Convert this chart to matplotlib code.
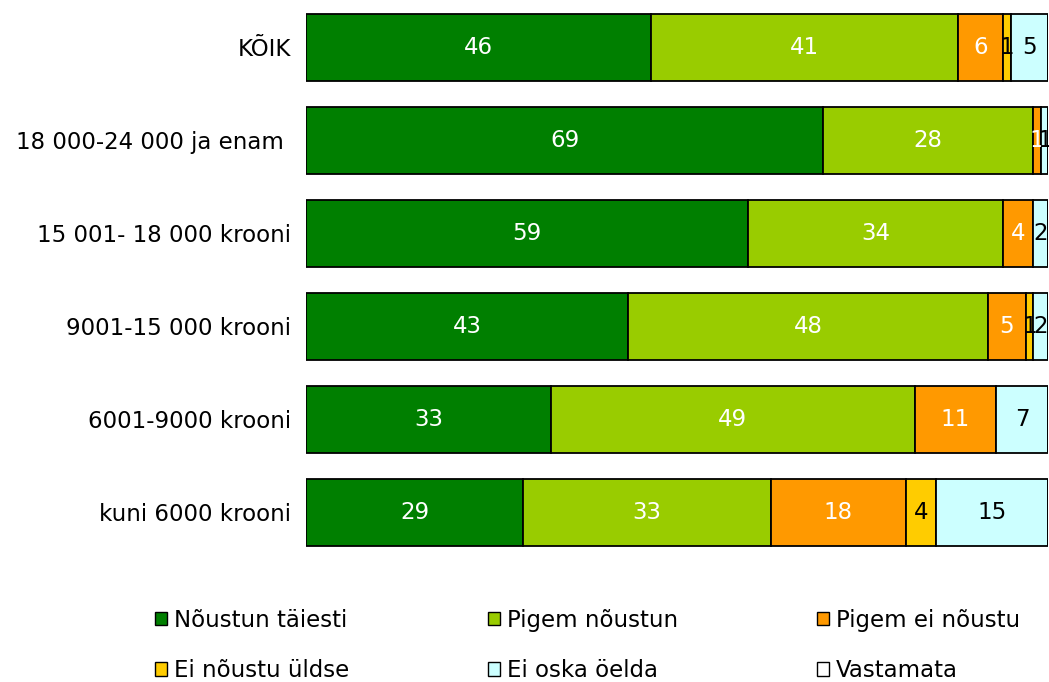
import numpy as np
import matplotlib
matplotlib.use("Agg")
from matplotlib import pyplot as plt
from matplotlib.patches import Patch

# sissetulekugrupid, ülevalt alla
groups = ['KÕIK', '18 000-24 000 ja enam ', '15 001- 18 000 krooni',
          '9001-15 000 krooni', '6001-9000 krooni', 'kuni 6000 krooni']

answers = ['Nõustun täiesti', 'Pigem nõustun', 'Pigem ei nõustu',
           'Ei nõustu üldse', 'Ei oska öelda', 'Vastamata']

noustun_taiesti = [46, 69, 59, 43, 33, 29]
pigem_noustun = [41, 28, 34, 48, 49, 33]
pigem_ei_noustu = [6, 1, 4, 5, 11, 18]
ei_noustu_uldse = [1, 0, 0, 1, 0, 4]
ei_oska_oelda = [5, 1, 2, 2, 7, 15]
vastamata = [0, 0, 0, 0, 0, 0]

colors = ['#007F00', '#99CC00', '#FF9900', '#FFCC00', '#CCFFFF', '#FFFFFF']
text_colors = ['white', 'white', 'white', 'black', 'black', 'black']
fs = 16.5

data = np.array([noustun_taiesti, pigem_noustun, pigem_ei_noustu,
                 ei_noustu_uldse, ei_oska_oelda, vastamata], dtype=float)
# 100% tulp: iga rida normeeritakse summale
share = data / data.sum(axis=0) * 100

fig = plt.figure(figsize=(10.49, 6.82), dpi=100)
ax = fig.add_axes([0.2917, 0.181, 0.7075, 0.818])

y = np.arange(len(groups))
left = np.zeros(len(groups))
for k in range(len(answers)):
    ax.barh(y, share[k], left=left, height=0.72, color=colors[k],
            edgecolor='black', linewidth=1.3)
    for i in range(len(groups)):
        if data[k, i] > 0:
            ax.text(left[i] + share[k, i] / 2, y[i], '%d' % data[k, i],
                    ha='center', va='center', fontsize=fs, color=text_colors[k])
    left += share[k]

ax.set_xlim(0, 100)
ax.set_ylim(len(groups) - 0.5, -0.5)
ax.set_yticks(y)
ax.set_yticklabels(groups, fontsize=fs)
ax.tick_params(axis='y', length=0, pad=11)
ax.set_xticks([])
for s in ax.spines.values():
    s.set_visible(False)

# legend ridade kaupa: 3 veergu
handles = [Patch(facecolor=c, edgecolor='black', linewidth=1) for c in colors]
order = [0, 3, 1, 4, 2, 5]
fig.legend([handles[i] for i in order], [answers[i] for i in order],
           ncol=3, loc='upper left', bbox_to_anchor=(0.139, 0.0, 0.842, 0.121),
           mode='expand', frameon=False, fontsize=fs, handlelength=0.52,
           handleheight=0.52, handletextpad=0.3, labelspacing=1.2,
           borderaxespad=0.0)

fig.savefig('out.png', dpi=100)
